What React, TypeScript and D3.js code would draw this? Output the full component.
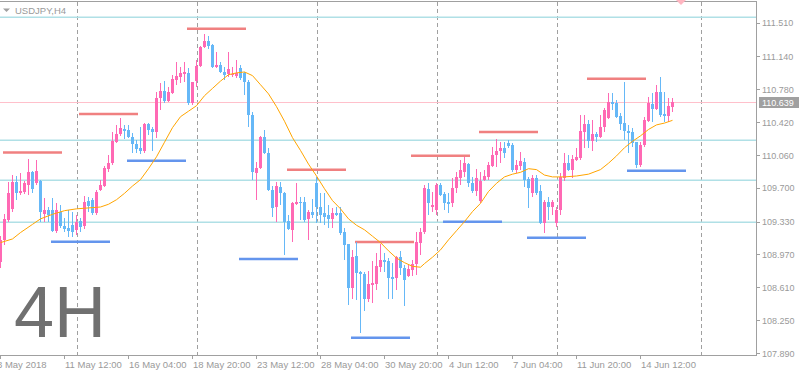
import React from 'react';
import * as d3 from 'd3';

const W = 799;
const H = 376;
const PLOT_RIGHT = 756;
const PLOT_BOTTOM = 355;

const symbolLabel = 'USDJPY,H4';
const timeframeLabel = '4H';

const openPrices = [
  108.89, 109.13, 109.35, 109.47, 109.76, 109.64, 109.65, 109.73, 109.87, 109.75,
  109.78, 109.41, 109.46, 109.46, 109.23, 109.44, 109.28, 109.26, 109.29, 109.24,
  109.34, 109.28, 109.56, 109.57, 109.42, 109.68, 109.72, 109.91, 109.97, 110.20,
  110.29, 110.35, 110.33, 110.26, 110.18, 110.14, 110.10, 110.40, 110.35, 110.31,
  110.69, 110.76, 110.65, 110.74, 110.88, 110.92, 110.95, 110.96, 110.63, 110.87,
  111.04, 111.24, 111.31, 111.27, 111.02, 111.05, 110.97, 110.95, 110.94, 110.93,
  111.01, 110.96, 110.86, 110.50, 109.86, 109.92, 110.26, 110.08, 109.68, 109.49,
  109.71, 109.64, 109.34, 109.24, 109.52, 109.55, 109.55, 109.36, 109.44, 109.75,
  109.49, 109.42, 109.40, 109.36, 109.42, 109.42, 109.22, 109.08, 108.60, 108.95,
  108.78, 108.76, 108.48, 108.64, 108.65, 108.83, 108.91, 108.90, 108.72, 108.71,
  108.94, 108.82, 108.73, 108.80, 108.87, 109.10, 109.22, 109.69, 109.49, 109.46,
  109.73, 109.63, 109.55, 109.53, 109.70, 109.81, 109.87, 109.96, 109.75, 109.67,
  109.56, 109.79, 109.82, 109.94, 110.06, 110.10, 110.14, 110.19, 110.17, 109.90,
  109.94, 109.98, 109.80, 109.64, 109.81, 109.67, 109.31, 109.55, 109.49, 109.31,
  109.46, 109.81, 109.97, 109.90, 110.00, 110.03, 110.31, 110.40, 110.21, 110.29,
  110.26, 110.37, 110.47, 110.64, 110.63, 110.49, 110.41, 110.32, 110.31, 110.20,
  109.95, 110.17, 110.43, 110.62, 110.56, 110.75, 110.51, 110.49, 110.59,
];

const highPrices = [
  109.17, 109.41, 109.76, 109.84, 109.83, 109.86, 109.78, 110.02, 109.89, 110.00,
  109.79, 109.59, 109.49, 109.59, 109.53, 109.51, 109.37, 109.46, 109.44, 109.40,
  109.37, 109.61, 109.60, 109.59, 109.68, 109.79, 109.94, 110.06, 110.31, 110.39,
  110.47, 110.39, 110.39, 110.30, 110.22, 110.37, 110.41, 110.41, 110.37, 110.75,
  110.85, 110.87, 110.81, 110.94, 111.08, 111.02, 111.08, 111.01, 110.86, 111.10,
  111.25, 111.39, 111.36, 111.28, 111.19, 111.08, 111.02, 111.19, 111.02, 111.10,
  111.05, 110.97, 110.88, 110.53, 109.98, 110.27, 110.33, 110.14, 109.72, 109.76,
  109.76, 109.65, 109.40, 109.55, 109.75, 109.60, 109.60, 109.46, 109.58, 109.82,
  109.64, 109.64, 109.51, 109.48, 109.49, 109.49, 109.26, 109.09, 109.02, 109.11,
  108.79, 108.78, 108.79, 108.90, 108.99, 109.08, 108.99, 108.93, 108.88, 108.95,
  109.01, 108.85, 108.85, 108.91, 109.22, 109.26, 109.73, 109.75, 109.65, 109.75,
  109.75, 109.65, 109.64, 109.81, 109.87, 110.00, 110.04, 109.97, 109.82, 109.91,
  109.87, 109.90, 109.98, 110.15, 110.24, 110.20, 110.20, 110.22, 110.19, 110.00,
  110.09, 110.03, 109.82, 109.84, 109.84, 109.73, 109.57, 109.60, 109.57, 109.49,
  109.86, 110.08, 110.06, 110.06, 110.14, 110.50, 110.50, 110.44, 110.44, 110.31,
  110.50, 110.58, 110.74, 110.74, 110.66, 110.52, 110.86, 110.39, 110.36, 110.20,
  110.20, 110.48, 110.70, 110.74, 110.83, 110.92, 110.75, 110.68, 110.68,
];

const lowPrices = [
  108.82, 109.07, 109.33, 109.44, 109.57, 109.62, 109.63, 109.62, 109.64, 109.73,
  109.33, 109.33, 109.33, 109.22, 109.21, 109.26, 109.22, 109.16, 109.16, 109.18,
  109.22, 109.25, 109.44, 109.40, 109.40, 109.67, 109.71, 109.87, 109.95, 110.19,
  110.27, 110.24, 110.25, 110.08, 110.08, 110.07, 110.08, 110.28, 110.10, 110.25,
  110.55, 110.63, 110.64, 110.73, 110.83, 110.85, 110.86, 110.61, 110.61, 110.81,
  111.02, 111.23, 111.22, 111.01, 111.01, 110.96, 110.88, 110.91, 110.91, 110.90,
  110.88, 110.72, 110.37, 109.79, 109.57, 109.91, 110.07, 109.67, 109.38, 109.33,
  109.51, 108.96, 109.24, 109.11, 109.51, 109.35, 109.33, 109.13, 109.37, 109.32,
  109.32, 109.29, 109.26, 109.26, 109.39, 109.18, 108.91, 108.42, 108.48, 108.47,
  108.11, 108.35, 108.45, 108.44, 108.58, 108.78, 108.78, 108.48, 108.48, 108.58,
  108.74, 108.40, 108.72, 108.73, 108.75, 108.96, 109.19, 109.40, 109.44, 109.40,
  109.61, 109.46, 109.42, 109.49, 109.64, 109.73, 109.82, 109.71, 109.64, 109.61,
  109.53, 109.78, 109.79, 109.93, 109.93, 109.97, 110.03, 110.14, 109.87, 109.86,
  109.90, 109.71, 109.48, 109.60, 109.62, 109.30, 109.21, 109.35, 109.40, 109.27,
  109.40, 109.78, 109.89, 109.81, 109.99, 110.00, 110.14, 110.14, 110.10, 110.20,
  110.25, 110.31, 110.45, 110.55, 110.47, 110.33, 110.22, 110.08, 110.15, 109.92,
  109.93, 110.15, 110.42, 110.42, 110.55, 110.48, 110.42, 110.42, 110.53,
];

const closePrices = [
  109.13, 109.36, 109.64, 109.76, 109.64, 109.67, 109.75, 109.87, 109.69, 109.89,
  109.43, 109.46, 109.40, 109.23, 109.46, 109.28, 109.25, 109.23, 109.22, 109.33,
  109.27, 109.55, 109.50, 109.42, 109.65, 109.73, 109.92, 109.97, 110.21, 110.29,
  110.36, 110.32, 110.26, 110.18, 110.13, 110.10, 110.40, 110.33, 110.31, 110.69,
  110.76, 110.65, 110.75, 110.89, 110.93, 110.96, 110.97, 110.63, 110.86, 111.04,
  111.24, 111.31, 111.25, 111.02, 111.05, 110.97, 110.94, 111.00, 110.95, 110.96,
  110.90, 110.86, 110.50, 109.87, 109.92, 110.26, 110.08, 109.68, 109.48, 109.72,
  109.64, 109.33, 109.25, 109.53, 109.55, 109.53, 109.35, 109.44, 109.40, 109.49,
  109.40, 109.38, 109.36, 109.42, 109.40, 109.21, 109.07, 108.60, 108.94, 108.77,
  108.76, 108.48, 108.65, 108.66, 108.84, 108.91, 108.89, 108.71, 108.70, 108.94,
  108.82, 108.69, 108.81, 108.87, 109.11, 109.22, 109.70, 109.53, 109.51, 109.73,
  109.62, 109.53, 109.52, 109.70, 109.82, 109.90, 109.97, 109.75, 109.67, 109.81,
  109.78, 109.83, 109.95, 110.06, 110.10, 110.14, 110.08, 110.16, 109.90, 109.95,
  109.99, 109.79, 109.70, 109.81, 109.64, 109.31, 109.55, 109.49, 109.55, 109.46,
  109.82, 109.97, 109.90, 110.02, 110.04, 110.32, 110.40, 110.21, 110.29, 110.26,
  110.37, 110.55, 110.64, 110.62, 110.48, 110.40, 110.32, 110.30, 110.19, 109.95,
  110.17, 110.44, 110.63, 110.56, 110.75, 110.50, 110.49, 110.60, 110.64,
];

const maBars = [
  0, 3, 5, 8, 10, 13, 16, 19, 22, 25, 27, 29, 31, 33, 35, 37, 39, 41, 43, 45,
  47, 49, 51, 53, 55, 57, 59, 61, 63, 65, 67, 69, 71, 73, 75, 77, 79, 81, 83, 85,
  87, 89, 91, 93, 95, 97, 99, 101, 103, 105, 106, 108, 110, 112, 114, 116, 118, 120, 122, 124,
  126, 128, 130, 132, 134, 136, 138, 141, 144, 147, 150, 152, 154, 156, 158, 160, 162, 164, 166, 168,
];
const maValues = [
  109.10, 109.14, 109.21, 109.30, 109.36, 109.41, 109.45, 109.47, 109.48, 109.49,
  109.52, 109.57, 109.64, 109.72, 109.79, 109.91, 110.04, 110.20, 110.36, 110.48,
  110.54, 110.60, 110.71, 110.79, 110.87, 110.94, 110.96, 110.97, 110.93, 110.83,
  110.73, 110.59, 110.43, 110.25, 110.11, 109.96, 109.83, 109.69, 109.56, 109.47,
  109.36, 109.29, 109.24, 109.17, 109.10, 109.01, 108.93, 108.88, 108.84, 108.83,
  108.87, 108.94, 109.02, 109.13, 109.23, 109.33, 109.44, 109.53, 109.66, 109.75,
  109.82, 109.85, 109.87, 109.91, 109.90, 109.84, 109.82, 109.82, 109.83, 109.85,
  109.90, 109.97, 110.05, 110.14, 110.21, 110.27, 110.34, 110.39, 110.41, 110.44,
];

const xTickBars = [0, 16, 32, 48, 64, 80, 96, 112, 128, 144, 160];
const xTickLabels = [
  '8 May 2018', '11 May 12:00', '16 May 04:00', '18 May 20:00', '23 May 12:00',
  '28 May 04:00', '30 May 20:00', '4 Jun 12:00', '7 Jun 04:00', '11 Jun 20:00', '14 Jun 12:00',
];
const yTickValues = [111.51, 111.14, 110.78, 110.42, 110.06, 109.7, 109.33, 108.97, 108.61, 108.25, 107.89];
const weekStartBars = [19, 49, 79, 109, 139, 175];
const horizontalLevels = [111.569, 110.221, 109.783, 109.323];
const currentPrice = 110.639;
const resistanceStartBars = [1, 20, 47, 72, 89, 103, 120, 147];
const resistanceLevels = [110.088, 110.51, 111.444, 109.899, 109.107, 110.053, 110.312, 110.896];
const supportStartBars = [13, 32, 60, 88, 111, 132, 157];
const supportLevels = [109.11, 109.998, 108.92, 108.058, 109.329, 109.153, 109.888];
const levelSpanBars = 14;

const BULL = '#ff69b4';
const BEAR = '#66b8f7';
const AXIS = '#a0a0a0';
const TEXT = '#9a9a9a';
const FONT = '"Liberation Sans", Arial, sans-serif';

export default function App() {
  const x = d3.scaleLinear().domain([0, 168]).range([0, 672]);
  const y = d3.scaleLinear().domain([107.89, 111.51]).range([353, 22.7]);

  const candles = openPrices.map((o, i) => ({
    i, o, h: highPrices[i], l: lowPrices[i], c: closePrices[i],
  }));

  const maLine = d3
    .line<number>()
    .x((_, k) => x(maBars[k]) + 0.5)
    .y((v) => y(v))(maValues) as string;

  const py = (v: number) => Math.round(y(v)) + 0.5;

  return (
    <svg
      width={W}
      height={H}
      style={{ position: 'absolute', left: 0, top: 0, background: '#fff' }}
      fontFamily={FONT}
    >
      {/* top border */}
      <line x1={0} x2={PLOT_RIGHT} y1={1.5} y2={1.5} stroke={AXIS} strokeWidth={1} />

      {/* week separators */}
      {weekStartBars.map((b) => (
        <line
          key={'w' + b}
          x1={x(b) + 1.5}
          x2={x(b) + 1.5}
          y1={2}
          y2={PLOT_BOTTOM}
          stroke={AXIS}
          strokeWidth={1}
          strokeDasharray="4,3"
        />
      ))}

      {/* horizontal levels */}
      {horizontalLevels.map((v) => (
        <line key={'h' + v} x1={0} x2={PLOT_RIGHT} y1={y(v)} y2={y(v)} stroke="#b0e0e6" strokeWidth={1.5} />
      ))}
      <line x1={0} x2={PLOT_RIGHT} y1={py(currentPrice)} y2={py(currentPrice)} stroke="#ffc0cb" strokeWidth={1} />

      {/* resistance / support segments */}
      {resistanceStartBars.map((s, k) => (
        <line
          key={'r' + k}
          x1={x(s) - 1}
          x2={x(s + levelSpanBars) + 2}
          y1={y(resistanceLevels[k])}
          y2={y(resistanceLevels[k])}
          stroke="#f08080"
          strokeWidth={2.5}
        />
      ))}
      {supportStartBars.map((s, k) => (
        <line
          key={'s' + k}
          x1={x(s) - 1}
          x2={x(s + levelSpanBars) + 2}
          y1={y(supportLevels[k])}
          y2={y(supportLevels[k])}
          stroke="#6495ed"
          strokeWidth={2.5}
        />
      ))}

      {/* candles */}
      <g shapeRendering="crispEdges">
        {candles.map((d) => {
          const col = d.c >= d.o ? BULL : BEAR;
          const cx = x(d.i);
          const top = Math.round(y(Math.max(d.o, d.c)));
          const bot = Math.round(y(Math.min(d.o, d.c)));
          return (
            <g key={d.i}>
              <line
                x1={cx + 0.5}
                x2={cx + 0.5}
                y1={Math.round(y(d.h))}
                y2={Math.round(y(d.l))}
                stroke={col}
                strokeWidth={1}
              />
              <rect x={cx - 1} y={top} width={3} height={Math.max(1, bot - top)} fill={col} />
            </g>
          );
        })}
      </g>

      {/* moving average */}
      <path d={maLine} fill="none" stroke="#ffa500" strokeWidth={1} />

      {/* shift marker */}
      <path d="M676,0 L686,0 L681,5 Z" fill="#ffb6c1" />

      {/* symbol label */}
      <path d="M3,8.5 L10,8.5 L6.5,12 Z" fill={AXIS} />
      <text x={15} y={13.5} fontSize={9.5} fill={TEXT}>
        {symbolLabel}
      </text>

      {/* big timeframe text */}
      <text x={14} y={337} fontSize={72} fill="#707070">
        {timeframeLabel}
      </text>

      {/* axes */}
      <line x1={PLOT_RIGHT + 0.5} x2={PLOT_RIGHT + 0.5} y1={1} y2={PLOT_BOTTOM + 1} stroke={AXIS} strokeWidth={1} />
      <line x1={0} x2={PLOT_RIGHT + 1} y1={PLOT_BOTTOM + 0.5} y2={PLOT_BOTTOM + 0.5} stroke={AXIS} strokeWidth={1} />

      {yTickValues.map((v) => (
        <g key={'yt' + v}>
          <line x1={PLOT_RIGHT} x2={PLOT_RIGHT + 4} y1={py(v)} y2={py(v)} stroke={AXIS} strokeWidth={1} />
          <text x={762} y={y(v) + 3.5} fontSize={9} fill={TEXT}>
            {v.toFixed(3)}
          </text>
        </g>
      ))}

      {/* current price box */}
      <rect x={759} y={Math.round(y(currentPrice)) - 5} width={40} height={11} fill="#a0a0a0" />
      <text x={762} y={y(currentPrice) + 3.5} fontSize={9} fill="#ffffff">
        {currentPrice.toFixed(3)}
      </text>

      {xTickBars.map((b, k) => (
        <g key={'xt' + b}>
          <line x1={x(b) + 0.5} x2={x(b) + 0.5} y1={PLOT_BOTTOM} y2={PLOT_BOTTOM + 4} stroke={AXIS} strokeWidth={1} />
          <text x={k === 0 ? x(b) - 3 : x(b) + 1} y={367.5} fontSize={9.5} fill={TEXT}>
            {xTickLabels[k]}
          </text>
        </g>
      ))}
    </svg>
  );
}
